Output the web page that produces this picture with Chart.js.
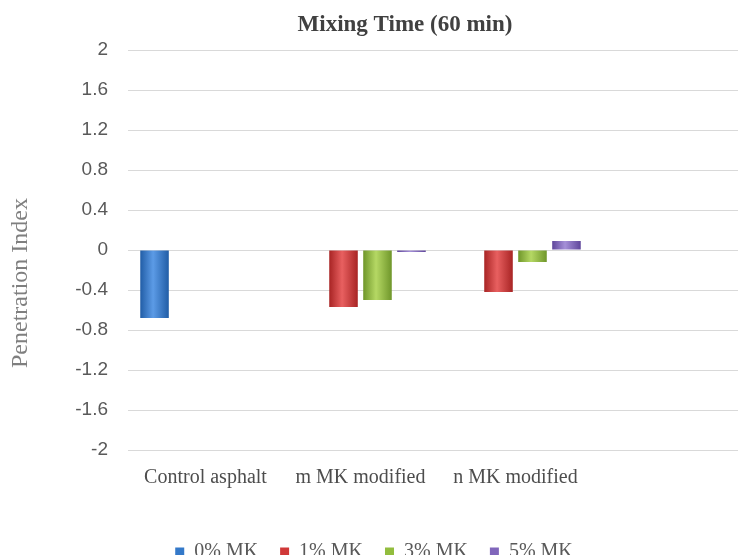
<!DOCTYPE html>
<html>
<head>
<meta charset="utf-8">
<script src="https://cdn.jsdelivr.net/npm/chart.js@4.4.1/dist/chart.umd.min.js"></script>
<style>
  html, body { margin: 0; padding: 0; background: #fff; overflow: hidden; }
  #wrap { width: 748px; height: 560px; }
</style>
</head>
<body>
<div id="wrap"><canvas id="chart" width="748" height="560"></canvas></div>
<script>
// Data
const categories = ['Control asphalt', 'm MK modified', 'n MK modified', ''];
const seriesNames = ['0% MK', '1% MK', '3% MK', '5% MK'];
const mk0 = [-0.68, null, null, null];
const mk1 = [null, -0.57, -0.42, null];
const mk3 = [null, -0.50, -0.12, null];
const mk5 = [null, -0.02, 0.09, null];
const yTicks = [2, 1.6, 1.2, 0.8, 0.4, 0, -0.4, -0.8, -1.2, -1.6, -2];

// base colour, light centre, dark edge
const palette = [
    ['#3479c9', '#5c9be6', '#215da6'],
    ['#d03838', '#e86060', '#a82424'],
    ['#92bd3e', '#b5d864', '#6f962a'],
    ['#8066bb', '#a590d8', '#5f469b']
];

const serif = '"Liberation Serif", "DejaVu Serif", serif';

// Give each bar a soft horizontal shading like the original
const barShading = {
    id: 'barShading',
    beforeDatasetsDraw(chart) {
        const ctx = chart.ctx;
        chart.data.datasets.forEach((ds, di) => {
            const meta = chart.getDatasetMeta(di);
            meta.data.forEach(el => {
                if (!el || el.width == null || isNaN(el.x)) return;
                const x0 = el.x - el.width / 2;
                const g = ctx.createLinearGradient(x0, 0, x0 + el.width, 0);
                g.addColorStop(0, palette[di][2]);
                g.addColorStop(0.45, palette[di][1]);
                g.addColorStop(1, palette[di][2]);
                // options are per element because backgroundColor is scriptable
                el.options.backgroundColor = g;
            });
        });
    }
};

// Chart title and y-axis title
const titles = {
    id: 'titles',
    afterDraw(chart) {
        const ctx = chart.ctx;
        ctx.save();
        ctx.fillStyle = '#404040';
        ctx.font = 'bold 23px ' + serif;
        ctx.textAlign = 'center';
        ctx.textBaseline = 'middle';
        ctx.fillText('Mixing Time (60 min)', 405, 25);

        ctx.translate(21, 283);
        ctx.rotate(-Math.PI / 2);
        ctx.fillStyle = '#7f7f7f';
        ctx.font = '24px ' + serif;
        ctx.fillText('Penetration Index', 0, 0);
        ctx.restore();
    }
};

const datasets = [mk0, mk1, mk3, mk5].map((vals, i) => ({
    label: seriesNames[i],
    data: vals,
    backgroundColor: () => palette[i][0],
    borderWidth: 0,
    categoryPercentage: 0.877,
    barPercentage: 0.84
}));

new Chart(document.getElementById('chart'), {
    type: 'bar',
    data: { labels: categories, datasets: datasets },
    plugins: [barShading, titles],
    options: {
        responsive: false,
        animation: false,
        layout: { padding: { top: 50, bottom: 5, left: 0, right: 0 } },
        plugins: {
            title: { display: false },
            tooltip: { enabled: false },
            legend: {
                position: 'bottom',
                maxHeight: 35,
                labels: {
                    boxWidth: 9,
                    boxHeight: 9,
                    padding: 22,
                    color: '#595959',
                    font: { family: serif, size: 20 },
                    generateLabels(chart) {
                        return chart.data.datasets.map((ds, i) => ({
                            text: ds.label,
                            fillStyle: palette[i][0],
                            strokeStyle: palette[i][0],
                            lineWidth: 0,
                            fontColor: '#595959',
                            hidden: false,
                            datasetIndex: i
                        }));
                    }
                }
            }
        },
        scales: {
            x: {
                grid: { display: false, drawTicks: false },
                border: { display: false },
                ticks: {
                    color: '#4d4d4d',
                    padding: 16,
                    maxRotation: 0,
                    autoSkip: false,
                    font: { family: serif, size: 20 }
                },
                afterFit(scale) { scale.height = 70; }
            },
            y: {
                min: -2,
                max: 2,
                grid: { color: '#d9d9d9', lineWidth: 1, drawTicks: false },
                border: { display: false },
                afterBuildTicks(scale) { scale.ticks = yTicks.map(v => ({ value: v })); },
                ticks: {
                    color: '#595959',
                    padding: 20,
                    font: { family: '"Liberation Sans", Arial, sans-serif', size: 19 },
                    callback: v => String(Math.round(v * 10) / 10)
                },
                afterFit(scale) { scale.width = 128; }
            }
        }
    }
});
</script>
</body>
</html>
